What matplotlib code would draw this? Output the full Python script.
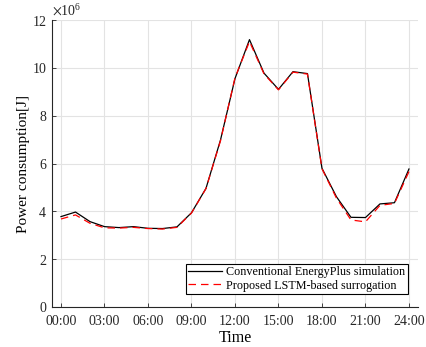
import matplotlib
matplotlib.use('Agg')
import matplotlib.pyplot as plt

# Data (hourly, values in 1e6 J)
hours = list(range(25))
energyplus = [3.78, 3.97, 3.57, 3.36, 3.32, 3.36, 3.29, 3.28, 3.35, 3.94, 4.96, 6.98, 9.55,
              11.18, 9.78, 9.10, 9.84, 9.76, 5.80, 4.61, 3.75, 3.74, 4.31, 4.36, 5.77]
lstm = [3.68, 3.85, 3.50, 3.31, 3.30, 3.33, 3.28, 3.26, 3.33, 3.93, 4.95, 6.95, 9.58,
        11.10, 9.75, 9.08, 9.82, 9.74, 5.78, 4.55, 3.64, 3.56, 4.25, 4.33, 5.66]
tick_hours = [0, 3, 6, 9, 12, 15, 18, 21, 24]
tick_labels = ['00:00', '03:00', '06:00', '09:00', '12:00', '15:00', '18:00', '21:00', '24:00']

plt.rcParams['font.family'] = ['Liberation Serif', 'DejaVu Serif']
plt.rcParams['mathtext.fontset'] = 'stix'
plt.rcParams['font.size'] = 10

fig = plt.figure(figsize=(4.27, 3.47), dpi=100)
ax = fig.add_axes([0.1218, 0.1153, 0.857, 0.827])

ax.plot(hours, [v * 1e6 for v in energyplus], color='black', linewidth=0.9,
        label='Conventional EnergyPlus simulation')
ax.plot(hours, [v * 1e6 for v in lstm], color='red', linewidth=0.9, linestyle=(0, (6, 4)),
        label='Proposed LSTM-based surrogation')

# Axes styling
ax.set_xlim(-0.62, 24.62)
ax.set_ylim(0, 12e6)
ax.set_xticks(tick_hours)
ax.set_xticklabels(tick_labels)
ax.set_yticks([0, 2e6, 4e6, 6e6, 8e6, 10e6, 12e6])
ax.ticklabel_format(axis='y', style='sci', scilimits=(6, 6), useMathText=True)
ax.grid(True, color='#e3e3e3', linewidth=0.8)
ax.set_axisbelow(True)
for s in ['top', 'right']:
    ax.spines[s].set_visible(False)
for s in ['left', 'bottom']:
    ax.spines[s].set_color('#262626')
    ax.spines[s].set_linewidth(0.8)
ax.tick_params(direction='in', length=3, width=0.6, colors='#262626', labelsize=10)
ax.tick_params(axis='x', pad=6)

ax.set_xlabel('Time', fontsize=11.5, labelpad=1.5)
ax.set_ylabel('Power consumption[J]', fontsize=11, labelpad=1)

leg = ax.legend(loc='lower right', bbox_to_anchor=(0.9727, 0.0453), fontsize=8.7,
                frameon=True, fancybox=False, edgecolor='black', framealpha=1,
                borderpad=0.2, labelspacing=0.1, handlelength=2.8, handletextpad=0.35,
                borderaxespad=0)
leg.get_frame().set_linewidth(0.8)

plt.savefig('out.png', dpi=100)
